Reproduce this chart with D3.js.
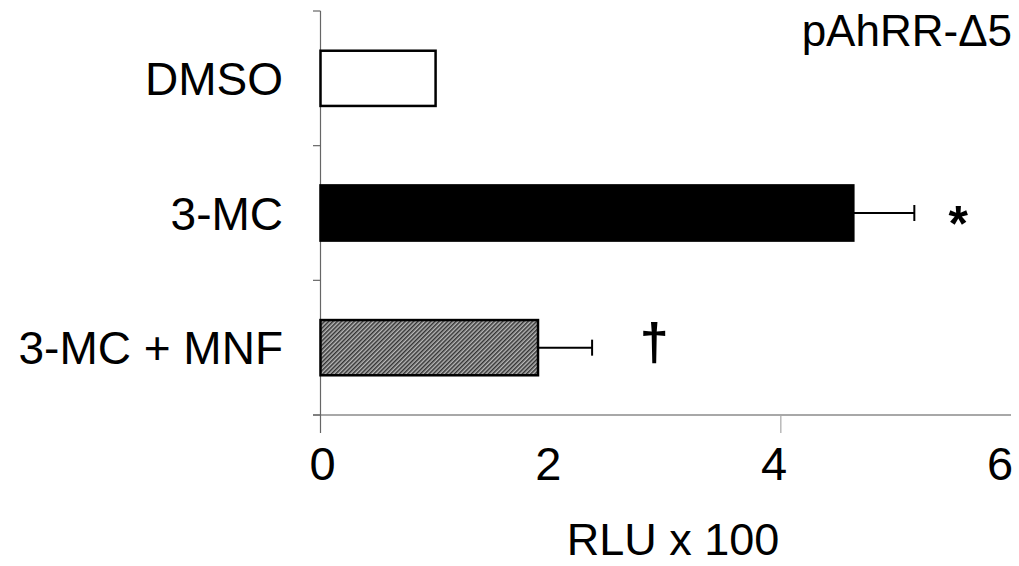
<!DOCTYPE html>
<html>
<head>
<meta charset="utf-8">
<script src="https://cdn.jsdelivr.net/npm/d3@7"></script>
<style>
  body { margin: 0; background: #fff; }
  text { font-family: "Liberation Sans", Arial, sans-serif; fill: #000; }
</style>
</head>
<body>
<svg width="1019" height="566"></svg>
<script>
// data
const categories = ["DMSO", "3-MC", "3-MC + MNF"];
const values = [1.0, 4.63, 1.89];
const errors = [0, 0.53, 0.47];
const marks = ["", "*", "\u2020"];
const xTicks = [0, 2, 4, 6];
const xTickMarks = [4];
const title = "pAhRR-\u03945";
const xTitle = "RLU x 100";

const svg = d3.select("svg");

const x = d3.scaleLinear().domain([0, 6]).range([320.5, 1011]);
// labels sit a bit left of their ticks in the original
const xLab = d3.scaleLinear().domain([0, 6]).range([322.5, 1000]);
const y = d3.scaleBand().domain(categories).range([11, 415])
  .paddingInner(0.59).paddingOuter(0.295);

// hatch for the last bar
const defs = svg.append("defs");
const pat = defs.append("pattern")
  .attr("id", "hatch")
  .attr("patternUnits", "userSpaceOnUse")
  .attr("width", 3).attr("height", 3)
  .attr("patternTransform", "rotate(45)");
pat.append("rect").attr("width", 3).attr("height", 3).attr("fill", "#b8b8b8");
pat.append("rect").attr("width", 1.5).attr("height", 3).attr("fill", "#333");

const fills = ["#fff", "#000", "url(#hatch)"];

// x axis line
svg.append("line")
  .attr("x1", 313).attr("x2", x(6))
  .attr("y1", 415).attr("y2", 415)
  .attr("stroke", "#a8a8a8").attr("stroke-width", 2);

svg.append("g").selectAll("line")
  .data(xTickMarks).enter().append("line")
  .attr("x1", d => x(d)).attr("x2", d => x(d))
  .attr("y1", 415).attr("y2", 433)
  .attr("stroke", "#a8a8a8").attr("stroke-width", 1.2);

svg.append("g").selectAll("text")
  .data(xTicks).enter().append("text")
  .attr("x", d => xLab(d))
  .attr("y", 480)
  .attr("text-anchor", "middle")
  .style("font-size", "47px")
  .text(d => d);

// y axis line and category ticks
svg.append("line")
  .attr("x1", x(0)).attr("x2", x(0))
  .attr("y1", 11).attr("y2", 433)
  .attr("stroke", "#666").attr("stroke-width", 1.2);

const bounds = [11].concat(categories.map(c => y(c) - y.step() * y.paddingInner() / 2 + y.step()));
svg.append("g").selectAll("line")
  .data(bounds).enter().append("line")
  .attr("x1", 313).attr("x2", x(0))
  .attr("y1", d => d).attr("y2", d => d)
  .attr("stroke", "#666").attr("stroke-width", 1.2);

// bars
svg.append("g").selectAll("rect")
  .data(categories).enter().append("rect")
  .attr("x", x(0))
  .attr("y", d => y(d))
  .attr("width", (d, i) => x(values[i]) - x(0))
  .attr("height", y.bandwidth())
  .attr("fill", (d, i) => fills[i])
  .attr("stroke", "#000")
  .attr("stroke-width", 2.5);

// error bars
const eb = svg.append("g").selectAll("g")
  .data(categories.filter((d, i) => errors[i] > 0)).enter().append("g");
eb.append("line")
  .attr("x1", d => x(values[categories.indexOf(d)]))
  .attr("x2", d => { const i = categories.indexOf(d); return x(values[i] + errors[i]); })
  .attr("y1", d => y(d) + y.bandwidth() / 2)
  .attr("y2", d => y(d) + y.bandwidth() / 2)
  .attr("stroke", "#000").attr("stroke-width", 2);
eb.append("line")
  .attr("x1", d => { const i = categories.indexOf(d); return x(values[i] + errors[i]); })
  .attr("x2", d => { const i = categories.indexOf(d); return x(values[i] + errors[i]); })
  .attr("y1", d => y(d) + y.bandwidth() / 2 - 8)
  .attr("y2", d => y(d) + y.bandwidth() / 2 + 8)
  .attr("stroke", "#000").attr("stroke-width", 2);

// significance marks
svg.append("g").selectAll("text")
  .data(categories).enter().append("text")
  .attr("x", (d, i) => x(values[i] + errors[i]) + (i === 1 ? 44 : 62))
  .attr("y", (d, i) => y(d) + y.bandwidth() / 2 + (i === 1 ? 28 : 12))
  .attr("text-anchor", "middle")
  .style("font-size", (d, i) => i === 1 ? "50px" : "52px")
  .style("font-weight", "bold")
  .text((d, i) => marks[i]);

// category labels
svg.append("g").selectAll("text")
  .data(categories).enter().append("text")
  .attr("x", 283)
  .attr("y", d => y(d) + y.bandwidth() / 2)
  .attr("dy", "0.36em")
  .attr("text-anchor", "end")
  .style("font-size", "46px")
  .text(d => d);

svg.append("text")
  .attr("x", 1012).attr("y", 46)
  .attr("text-anchor", "end")
  .style("font-size", "44px")
  .text(title);

svg.append("text")
  .attr("x", 673).attr("y", 555)
  .attr("text-anchor", "middle")
  .style("font-size", "45px")
  .text(xTitle);
</script>
</body>
</html>
